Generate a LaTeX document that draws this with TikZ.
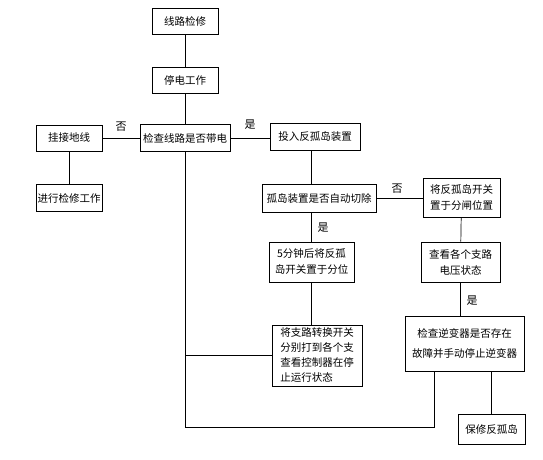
\documentclass[tikz,border=0pt]{standalone}
\usepackage{fontspec}
\newfontfamily\cjk{Noto Sans CJK SC}
\begin{document}
\begin{tikzpicture}[x=1pt,y=-1pt,line width=0.7pt,
% common options for boxes:
box/.style = {draw, align=center, inner sep=1pt,
            font=\cjk\fontsize{10.5}{16}\selectfont},
% common options for the yes/no labels:
tag/.style = {inner sep=0, font=\cjk\fontsize{11}{13}\selectfont}]
\useasboundingbox (0,0) rectangle (543,459);
\node[box,minimum width=66pt,minimum height=26pt] (xl) at (185,21) {线路检修};
\node[box,minimum width=66pt,minimum height=26pt] (td) at (185,80) {停电工作};
\node[box,minimum width=90pt,minimum height=27pt] (jc) at (185,138) {检查线路是否带电};
\node[box,minimum width=66pt,minimum height=26pt] (gj) at (69,138) {挂接地线};
\node[box,minimum width=66pt,minimum height=27pt] (jx) at (69,198) {进行检修工作};
\node[box,minimum width=90pt,minimum height=27pt] (tr) at (315,137) {投入反孤岛装置};
\node[box,minimum width=114pt,minimum height=28pt] (gd) at (319,198) {孤岛装置是否自动切除};
\node[box,minimum width=77pt,minimum height=39pt] (jf) at (461.5,197.5) {将反孤岛开关\\置于分闸位置};
\node[box,minimum width=85pt,minimum height=40pt] (fz) at (311.5,262) {5分钟后将反孤\\岛开关置于分位};
\node[box,minimum width=79pt,minimum height=40pt] (ck) at (460.5,262) {查看各个支路\\电压状态};
\node[box,align=left,minimum width=90pt,minimum height=61pt,
      font=\cjk\fontsize{10.5}{15}\selectfont] (zl) at (317,355.5) {将支路转换开关\\分别打到各个支\\查看控制器在停\\止运行状态};
\node[box,minimum width=119pt,minimum height=55pt,
      font=\cjk\fontsize{10.5}{20}\selectfont] (ni) at (464.5,343.5) {检查逆变器是否存在\\故障并手动停止逆变器};
\node[box,minimum width=67pt,minimum height=30pt] (bx) at (491.5,429) {保修反孤岛};
\node[tag] (n1) at (121,127) {否};
\node[tag] (y1) at (250,125) {是};
\node[tag] (n2) at (397,189) {否};
\node[tag] (y2) at (323,228) {是};
\node[tag] (y3) at (472,301) {是};
\coordinate (lp) at (434,427);
\draw (xl) to (td);
\draw (td) to (jc);
\draw (gj) to (jc);
\draw (gj) to (jx);
\draw (jc.east) to (jc.east -| tr.west);
\draw (tr.south -| fz) to (gd.north -| fz);
\draw (gd.east) to (gd.east -| jf.west);
\draw (gd.south -| fz) to (fz);
\draw (fz) to (zl.north -| fz);
\draw (jf) to (ck);
\draw (ck.south) to (ck.south |- ni.north);
\draw (ni.south -| bx) to (bx);
\draw (jc.south) |- (lp) -- (lp |- ni.south);
\draw (zl.west) to (zl.west -| jc);
\end{tikzpicture}
\end{document}
